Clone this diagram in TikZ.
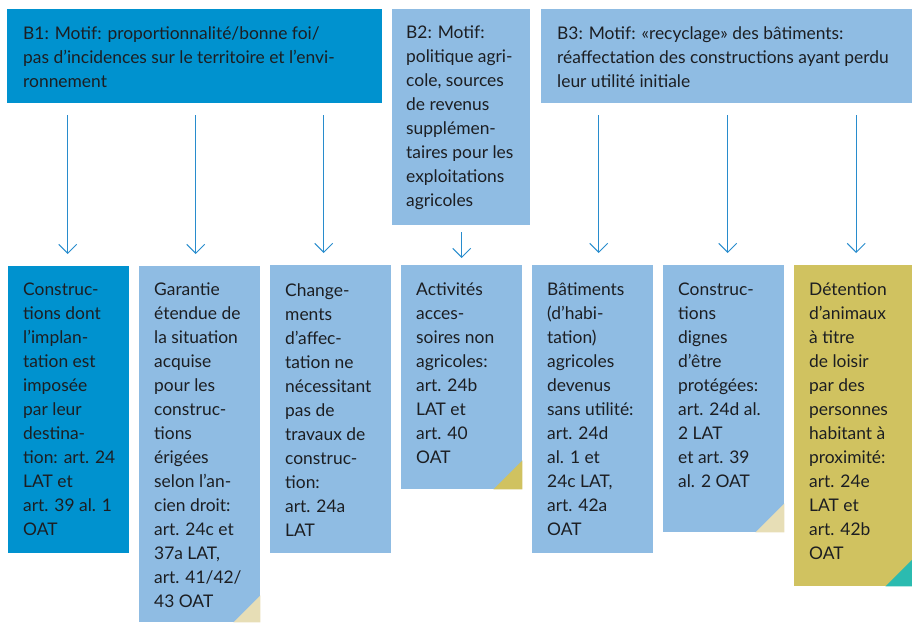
\documentclass[tikz,border=0pt]{standalone}
\usepackage{fontspec}
\setmainfont{Lato}
\usepackage{xcolor}
\usetikzlibrary{arrows.meta,positioning}

\definecolor{bleu}{RGB}{0,146,207}
\definecolor{ciel}{RGB}{143,188,227}
\definecolor{olive}{RGB}{208,194,96}
\definecolor{sable}{RGB}{231,222,182}
\definecolor{turquoise}{RGB}{43,187,176}
\definecolor{trait}{RGB}{40,140,205}
\definecolor{encre}{RGB}{28,30,34}

\tikzset{
  box/.style={rectangle, inner sep=0pt, anchor=north west},
  txt/.style={inner sep=0pt, align=left, text=encre, font=\fontsize{17.4}{24}\selectfont},
  fleche/.style={draw=trait, line width=1pt, -{Straight Barb[length=9pt,width=18pt]}},
}

\begin{document}
\begin{tikzpicture}[x=1pt,y=-1pt]
            \useasboundingbox (0,0) rectangle (912,622);

            % motifs
            \node[box, fill=bleu, minimum width=375pt, minimum height=94pt] (b1) at (7,9) {};
            \node[box, fill=ciel, minimum width=138pt, minimum height=216pt] (b2) at (392,9) {};
            \node[box, fill=ciel, minimum width=371pt, minimum height=94pt] (b3) at (541,9) {};
            \node[txt, below right=17pt and 16pt of b1.north west] (t1) {B1: Motif: proportionnalité/bonne foi/\\pas d’incidences sur le territoire et l’envi-\\ronnement};
            \node[txt, below right=17pt and 14pt of b2.north west] (t2) {B2: Motif:\\politique agri-\\cole, sources\\de revenus\\supplémen-\\taires pour les\\exploitations\\agricoles};
            \node[txt, below right=17pt and 16pt of b3.north west] (t3) {B3: Motif: «recyclage» des bâtiments:\\réaffectation des constructions ayant perdu\\leur utilité initiale};

            % cas
            \node[box, fill=bleu, minimum width=121pt, minimum height=287pt] (c1) at (8,266) {};
            \node[box, fill=ciel, minimum width=121pt, minimum height=356pt] (c2) at (139,266) {};
            \node[box, fill=ciel, minimum width=121pt, minimum height=288pt] (c3) at (270,265) {};
            \node[box, fill=ciel, minimum width=121pt, minimum height=224pt] (c4) at (401,265) {};
            \node[box, fill=ciel, minimum width=121pt, minimum height=288pt] (c5) at (532,265) {};
            \node[box, fill=ciel, minimum width=121pt, minimum height=267pt] (c6) at (663,265) {};
            \node[box, fill=olive, minimum width=118pt, minimum height=321pt] (c7) at (794,265) {};

            \fill[sable] (c2.south east) -- ++(-27pt,0pt) -- ++(27pt,27pt) -- cycle;
            \fill[olive] (c4.south east) -- ++(-29pt,0pt) -- ++(29pt,29pt) -- cycle;
            \fill[sable] (c6.south east) -- ++(-29pt,0pt) -- ++(29pt,29pt) -- cycle;
            \fill[turquoise] (c7.south east) -- ++(-27pt,0pt) -- ++(27pt,27pt) -- cycle;

            \node[txt, below right=17pt and 15pt of c1.north west] (u1) {Construc-\\tions dont\\l’implan-\\tation est\\imposée\\par leur\\destina-\\tion: art. 24\\LAT et\\art. 39 al. 1\\OAT};
            \node[txt, below right=17pt and 15pt of c2.north west] (u2) {Garantie\\étendue de\\la situation\\acquise\\pour les\\construc-\\tions\\érigées\\selon l’an-\\cien droit:\\art. 24c et\\37a LAT,\\art. 41/42/\\43 OAT};
            \node[txt, below right=18pt and 15pt of c3.north west] (u3) {Change-\\ments\\d’affec-\\tation ne\\nécessitant\\pas de\\travaux de\\construc-\\tion:\\art. 24a\\LAT};
            \node[txt, below right=18pt and 15pt of c4.north west] (u4) {Activités\\acces-\\soires non\\agricoles:\\art. 24b\\LAT et\\art. 40\\OAT};
            \node[txt, below right=18pt and 15pt of c5.north west] (u5) {Bâtiments\\(d’habi-\\tation)\\agricoles\\devenus\\sans utilité:\\art. 24d\\al. 1 et\\24c LAT,\\art. 42a\\OAT};
            \node[txt, below right=18pt and 15pt of c6.north west] (u6) {Construc-\\tions\\dignes\\d’être\\protégées:\\art. 24d al.\\2 LAT\\et art. 39\\al. 2 OAT};
            \node[txt, below right=18pt and 15pt of c7.north west] (u7) {Détention\\d’animaux\\à titre\\de loisir\\par des\\personnes\\habitant à\\proximité:\\art. 24e\\LAT et\\art. 42b\\OAT};

            % fleches
            \foreach \src/\dst/\dx/\gap in {b1/c1/-1/12, b1/c2/-4/12, b1/c3/-7/12, b2/c4/0/7, b3/c5/6/12, b3/c6/4/12, b3/c7/3/12}
              \draw[fleche] (\src.south -| \dst.north) ++(\dx pt,-\gap pt) -- ([xshift=\dx pt, yshift=\gap pt]\dst.north);
          \end{tikzpicture}
\end{document}
